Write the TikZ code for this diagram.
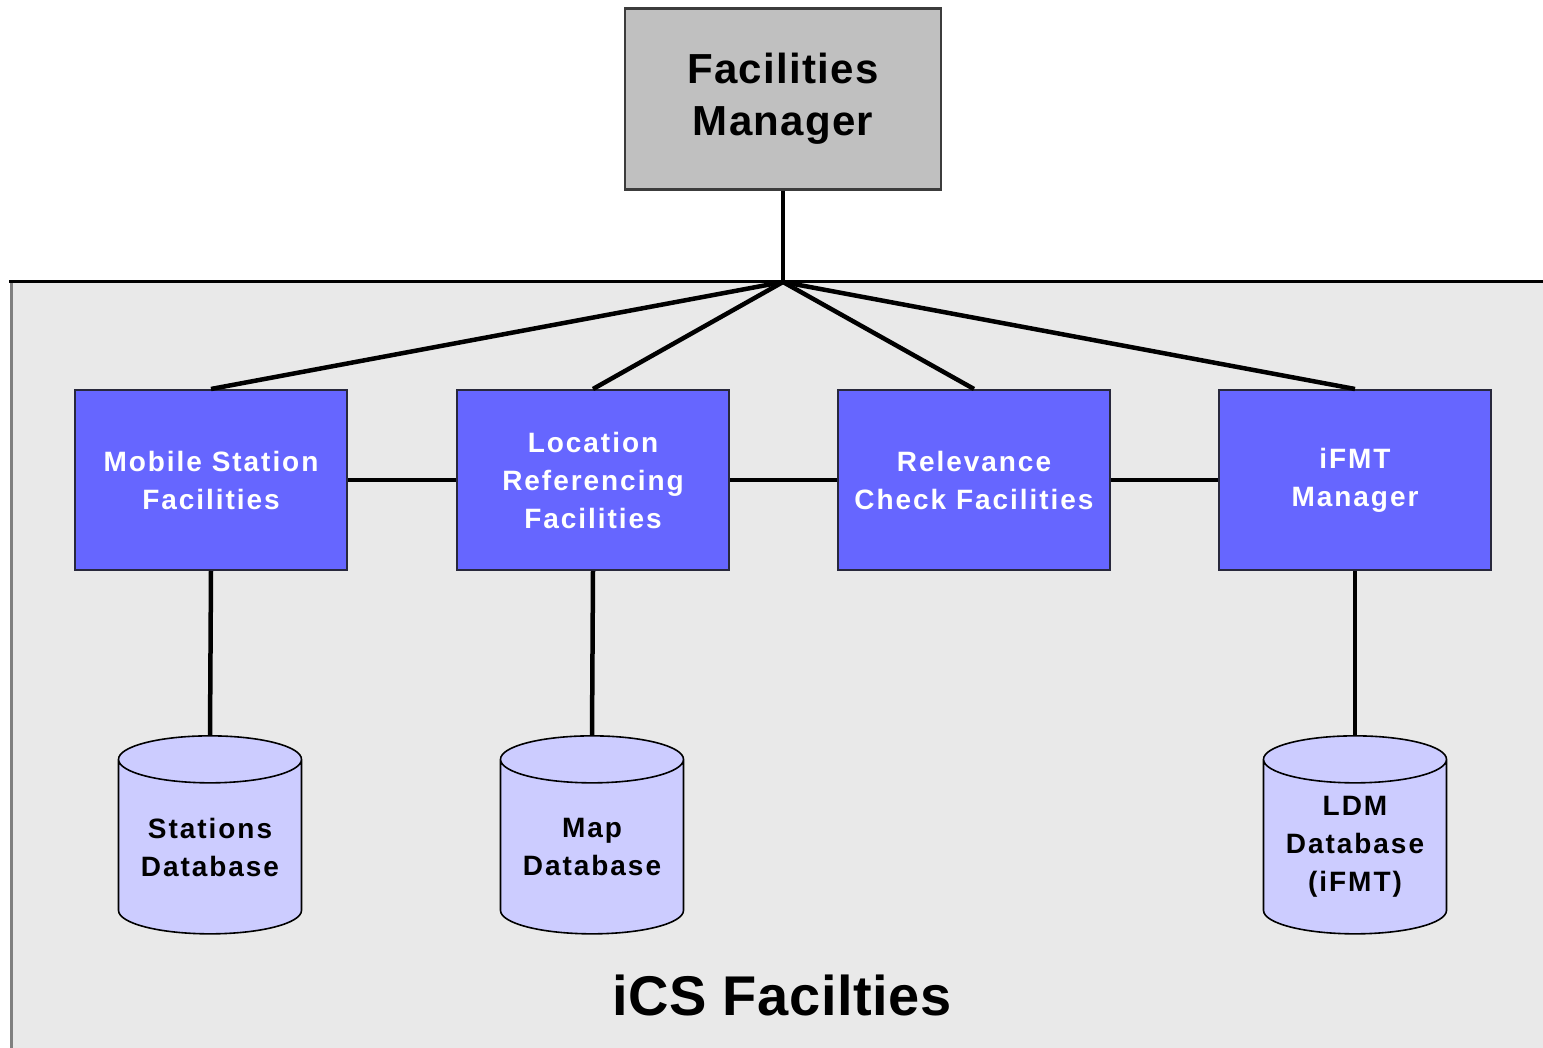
\documentclass[tikz,border=0pt]{standalone}
\usepackage{fontspec}
\setmainfont{Liberation Sans}
\usepackage{tikz}
\usetikzlibrary{shapes.geometric}

\definecolor{panelgray}{RGB}{233,233,233}
\definecolor{mgrgray}{RGB}{192,192,192}
\definecolor{facblue}{RGB}{102,102,255}
\definecolor{dbblue}{RGB}{204,204,255}

\begin{document}
\begin{tikzpicture}[x=1pt,y=1pt,yscale=-1,
  facbox/.style={draw={rgb,255:red,40;green,40;blue,60},line width=2pt,fill=facblue,
    minimum width=272pt,minimum height=180pt,inner sep=0pt,align=center,text=white,
    font=\fontsize{28}{38}\selectfont\bfseries\addfontfeatures{LetterSpace=7}},
  dbcyl/.style={cylinder,shape border rotate=90,aspect=0.34,draw=black,line width=1.6pt,
    fill=dbblue,minimum width=183pt,minimum height=198pt,inner sep=0pt,align=center,
    font=\fontsize{28}{38}\selectfont\bfseries\addfontfeatures{LetterSpace=7}},
  link/.style={line width=4.5pt,black}]
\useasboundingbox (0,0) rectangle (1543,1048);

%Shape: Panel
\fill [panelgray] (11,282) rectangle (1545,1050);
\draw [line width=3pt,gray] (11,282) -- (11,1050);
\draw [line width=3pt,black] (9,282) -- (1545,282);

%Shape: Manager box
\node [draw={rgb,255:red,60;green,60;blue,60},line width=2.5pt,fill=mgrgray,minimum width=316pt,
  minimum height=181pt,inner sep=0pt,align=center,
  font=\fontsize{42}{54}\selectfont\bfseries\addfontfeatures{LetterSpace=3}] (fm) at (783,99) {\raisebox{-2pt}{Facilities}\\Manager};
\coordinate (hub) at (783,282);

%Shape: Facility boxes
\node [facbox] (msf) at (211,480) {Mobile Station\\Facilities};
\node [facbox] (lrf) at (593,480) {Location\\Referencing\\Facilities};
\node [facbox] (rcf) at (974,480) {Relevance\\Check Facilities};
\node [facbox] (ifm) at (1355,480) {iFMT\\Manager};

%Shape: Databases
\node [dbcyl] (sdb) at (210,847) {Stations\\Database};
\node [dbcyl] (mdb) at (592,847) {Map\\Database};
\node [dbcyl] (ldb) at (1355,847) {LDM\\Database\\(iFMT)};

%Connectors
\draw [link] (fm.south) -- (hub);
\foreach \n in {msf,lrf,rcf,ifm}
  \draw [link] (hub) -- (\n.north);
\draw [link] (msf.east) -- (lrf.west);
\draw [link] (lrf.east) -- (rcf.west);
\draw [link] (rcf.east) -- (ifm.west);
\draw [link] (msf.south) -- (sdb.north);
\draw [link] (lrf.south) -- (mdb.north);
\draw [link] (ifm.south) -- (ldb.north);

% Text Node
\node [font=\fontsize{56}{66}\selectfont\bfseries\addfontfeatures{LetterSpace=1}] (ics) at (782,995) {iCS Facilties};
\end{tikzpicture}
\end{document}
